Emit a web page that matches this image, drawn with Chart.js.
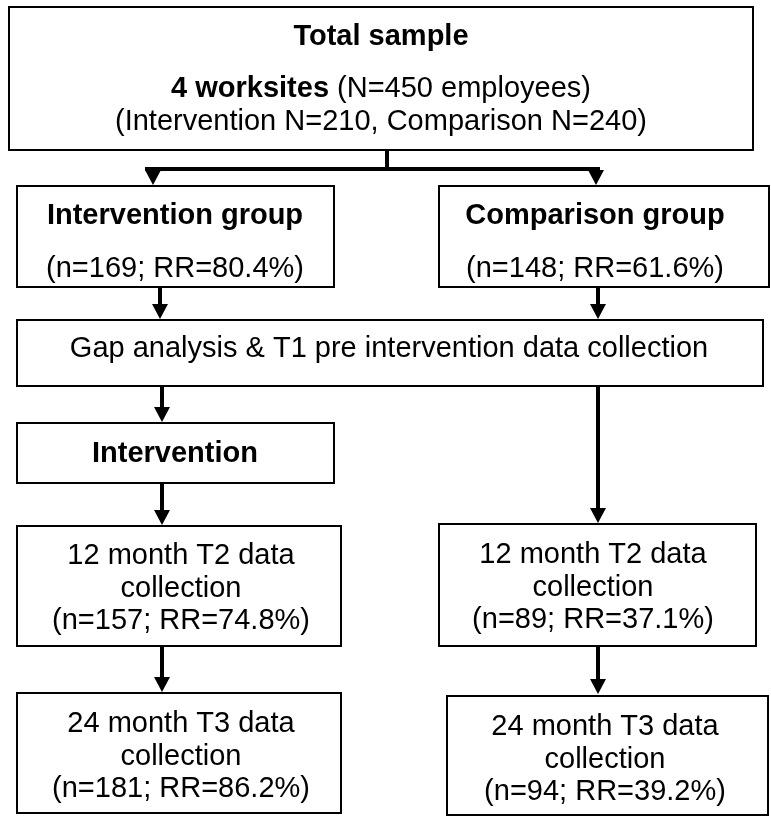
<!DOCTYPE html>
<html>
<head>
<meta charset="utf-8">
<title>Study flow</title>
<script src="https://cdn.jsdelivr.net/npm/chart.js@4"></script>
<style>
  html, body { margin: 0; padding: 0; background: #fff; }
  canvas { display: block; }
</style>
</head>
<body>
<canvas id="flow-chart" width="771" height="818"></canvas>
<script>
// study numbers
const worksites = 4;
const totalN = 450;
const groupNames = ['Intervention', 'Comparison'];
const groupN = [210, 240];
const stageNames = ['12 month T2', '24 month T3'];
const interventionN = [169, 157, 181];
const interventionRR = [80.4, 74.8, 86.2];
const comparisonN = [148, 89, 94];
const comparisonRR = [61.6, 37.1, 39.2];

const rr = (n, r) => `(n=${n}; RR=${r.toFixed(1)}%)`;

// layout in diagram units (the axes run 0..771 and 0..818)
const boxes = [
  { box: [9, 7, 753, 150], cx: 381, lines: [
    { y: 45, parts: [['Total sample', true]] },
    { y: 97, parts: [[`${worksites} worksites`, true], [` (N=${totalN} employees)`, false]] },
    { y: 130, parts: [[`(${groupNames[0]} N=${groupN[0]}, ${groupNames[1]} N=${groupN[1]})`, false]] }
  ] },
  { box: [17, 186, 334, 287], cx: 175, lines: [
    { y: 224, parts: [[`${groupNames[0]} group`, true]] },
    { y: 277, parts: [[rr(interventionN[0], interventionRR[0]), false]] }
  ] },
  { box: [439, 186, 769, 287], cx: 595, lines: [
    { y: 224, parts: [[`${groupNames[1]} group`, true]] },
    { y: 277, parts: [[rr(comparisonN[0], comparisonRR[0]), false]] }
  ] },
  { box: [17, 320, 763, 386], cx: 389, lines: [
    { y: 357, parts: [['Gap analysis & T1 pre intervention data collection', false]] }
  ] },
  { box: [17, 423, 334, 483], cx: 175, lines: [
    { y: 462, parts: [['Intervention', true]] }
  ] },
  { box: [17, 526, 341, 646], cx: 181, lines: [
    { y: 564, parts: [[`${stageNames[0]} data`, false]] },
    { y: 597, parts: [['collection', false]] },
    { y: 629, parts: [[rr(interventionN[1], interventionRR[1]), false]] }
  ] },
  { box: [439, 524, 756, 646], cx: 593, lines: [
    { y: 563, parts: [[`${stageNames[0]} data`, false]] },
    { y: 596, parts: [['collection', false]] },
    { y: 628, parts: [[rr(comparisonN[1], comparisonRR[1]), false]] }
  ] },
  { box: [17, 693, 341, 813], cx: 181, lines: [
    { y: 732, parts: [[`${stageNames[1]} data`, false]] },
    { y: 765, parts: [['collection', false]] },
    { y: 797, parts: [[rr(interventionN[2], interventionRR[2]), false]] }
  ] },
  { box: [447, 696, 768, 815], cx: 605, lines: [
    { y: 735, parts: [[`${stageNames[1]} data`, false]] },
    { y: 768, parts: [['collection', false]] },
    { y: 800, parts: [[rr(comparisonN[2], comparisonRR[2]), false]] }
  ] }
];

// connector segments (no head) and arrows (x, from y, to tip y)
const segments = [
  [387, 150, 387, 169],
  [145, 169, 600, 169]
];
const arrows = [
  [153, 169, 185], [596, 169, 185],
  [160, 287, 319], [598, 287, 319],
  [162, 386, 422], [598, 386, 523],
  [162, 483, 525], [162, 646, 692],
  [598, 646, 694]
];

const FONT = '"Liberation Sans", Arial, Helvetica, sans-serif';

const flowPlugin = {
  id: 'flow',
  beforeDraw(chart) {
    const c = chart.ctx;
    c.save();
    c.fillStyle = '#fff';
    c.fillRect(0, 0, chart.width, chart.height);
    c.restore();
  },
  afterDatasetsDraw(chart) {
    const c = chart.ctx;
    const px = (v) => chart.scales.x.getPixelForValue(v);
    const py = (v) => chart.scales.y.getPixelForValue(v);
    c.save();
    c.strokeStyle = '#000';
    c.fillStyle = '#000';

    // lines
    c.lineWidth = 4;
    c.lineCap = 'butt';
    segments.forEach(([x0, y0, x1, y1]) => {
      c.beginPath();
      c.moveTo(px(x0), py(y0));
      c.lineTo(px(x1), py(y1));
      c.stroke();
    });
    arrows.forEach(([x, y0, y1]) => {
      const head = 15;
      c.beginPath();
      c.moveTo(px(x), py(y0));
      c.lineTo(px(x), py(y1 - head + 1));
      c.stroke();
      c.beginPath();
      c.moveTo(px(x - 8), py(y1 - head));
      c.lineTo(px(x + 8), py(y1 - head));
      c.lineTo(px(x), py(y1));
      c.closePath();
      c.fill();
    });

    // boxes and text
    boxes.forEach((b) => {
      const [x0, y0, x1, y1] = b.box;
      c.lineWidth = 2;
      c.fillStyle = '#fff';
      c.fillRect(px(x0), py(y0), px(x1) - px(x0), py(y1) - py(y0));
      c.strokeRect(px(x0), py(y0), px(x1) - px(x0), py(y1) - py(y0));
      c.fillStyle = '#000';
      c.textBaseline = 'alphabetic';
      c.textAlign = 'left';
      b.lines.forEach((ln) => {
        const widths = ln.parts.map(([t, bold]) => {
          c.font = `${bold ? 'bold ' : ''}29px ${FONT}`;
          return c.measureText(t).width;
        });
        const total = widths.reduce((a, w) => a + w, 0);
        let x = px(b.cx) - total / 2;
        ln.parts.forEach(([t, bold], i) => {
          c.font = `${bold ? 'bold ' : ''}29px ${FONT}`;
          c.fillText(t, x, py(ln.y));
          x += widths[i];
        });
      });
    });
    c.restore();
  }
};

const chart = new Chart(document.querySelector('#flow-chart'), {
  type: 'scatter',
  data: { datasets: [{ data: [], pointRadius: 0 }] },
  options: {
    responsive: false,
    animation: false,
    events: [],
    layout: { padding: 0 },
    plugins: { legend: { display: false }, tooltip: { enabled: false } },
    scales: {
      x: { type: 'linear', min: 0, max: 771, display: false },
      y: { type: 'linear', min: 0, max: 818, reverse: true, display: false }
    }
  },
  plugins: [flowPlugin]
});
</script>
</body>
</html>
